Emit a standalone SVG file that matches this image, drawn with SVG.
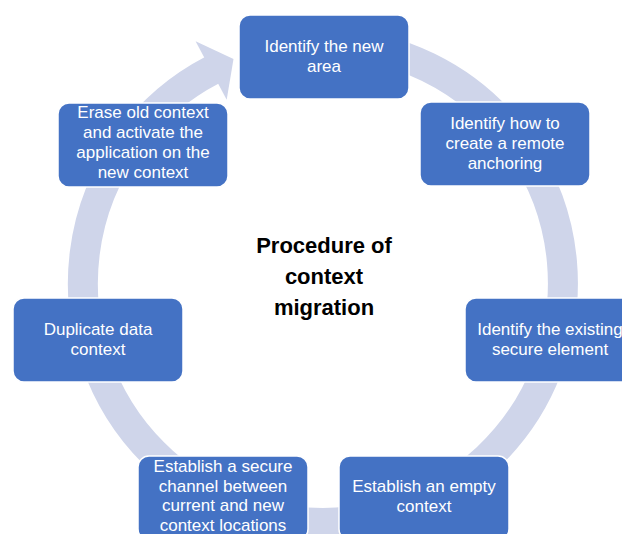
<svg xmlns="http://www.w3.org/2000/svg" width="622" height="534" viewBox="0 0 622 534">
  <style>
    .ring { fill: none; stroke: #CFD5EA; stroke-width: 30; }
    .head { fill: #CFD5EA; }
    .box { fill: #4472C4; stroke: #FFFFFF; stroke-width: 1.5; }
    .lbl { fill: #FFFFFF; font-family: "Liberation Sans", Arial, sans-serif; font-size: 17px; text-anchor: middle; }
    .title { fill: #000000; font-family: "Liberation Sans", Arial, sans-serif; font-size: 22px; font-weight: bold; text-anchor: middle; }
  </style>
  <rect width="622" height="534" fill="#FFFFFF"/>

  <!-- circular cycle arrow -->
  <g id="connectors">
    <path class="ring" d="M 323 43 A 240 240 0 1 1 212.3 70"/>
    <polygon class="head" points="195.6,41.2 233.5,58.9 226.7,99.7"/>
  </g>

  <!-- centre title -->
  <g id="title">
    <text class="title" x="324" y="253">Procedure of</text>
    <text class="title" x="324" y="284">context</text>
    <text class="title" x="324" y="315">migration</text>
  </g>

  <g id="step1">
    <rect class="box" x="239" y="15" width="170" height="84" rx="11"/>
    <text class="lbl" x="324" y="52">Identify the new</text>
    <text class="lbl" x="324" y="72">area</text>
  </g>

  <g id="step2">
    <rect class="box" x="420" y="102" width="170" height="84" rx="11"/>
    <text class="lbl" x="505" y="129">Identify how to</text>
    <text class="lbl" x="505" y="149">create a remote</text>
    <text class="lbl" x="505" y="169">anchoring</text>
  </g>

  <g id="step3">
    <rect class="box" x="465" y="298" width="170" height="84" rx="11"/>
    <text class="lbl" x="550" y="335">Identify the existing</text>
    <text class="lbl" x="550" y="355">secure element</text>
  </g>

  <g id="step4">
    <rect class="box" x="339" y="456" width="170" height="84" rx="11"/>
    <text class="lbl" x="424" y="492">Establish an empty</text>
    <text class="lbl" x="424" y="512">context</text>
  </g>

  <g id="step5">
    <rect class="box" x="138" y="456" width="170" height="84" rx="11"/>
    <text class="lbl" x="223" y="472">Establish a secure</text>
    <text class="lbl" x="223" y="491.5">channel between</text>
    <text class="lbl" x="223" y="511">current and new</text>
    <text class="lbl" x="223" y="530.5">context locations</text>
  </g>

  <g id="step6">
    <rect class="box" x="13" y="298" width="170" height="84" rx="11"/>
    <text class="lbl" x="98" y="335">Duplicate data</text>
    <text class="lbl" x="98" y="355">context</text>
  </g>

  <g id="step7">
    <rect class="box" x="58" y="103" width="170" height="84" rx="11"/>
    <text class="lbl" x="143" y="118">Erase old context</text>
    <text class="lbl" x="143" y="138">and activate the</text>
    <text class="lbl" x="143" y="158">application on the</text>
    <text class="lbl" x="143" y="178">new context</text>
  </g>
</svg>
